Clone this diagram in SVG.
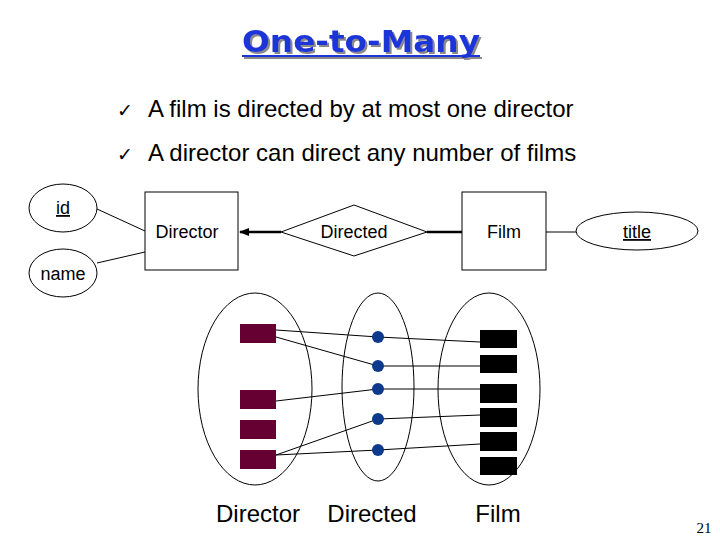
<svg xmlns="http://www.w3.org/2000/svg" width="720" height="540" viewBox="0 0 720 540">
<defs>
<style>
.t{font-family:"Liberation Sans",Arial,sans-serif;fill:#000}
.n{font-size:18px;text-anchor:middle}
.b{font-size:24px}
.ck{font-family:"DejaVu Sans",sans-serif;font-size:19px}
.s{fill:#fff;stroke:#000;stroke-width:1}
.e{fill:none;stroke:#000;stroke-width:1}
.l{stroke:#000;stroke-width:1;fill:none}
.mr{fill:#660033}
.bk{fill:#000}
.dt{fill:#0d3a8c}
</style>
<filter id="sh" x="-10%" y="-20%" width="120%" height="150%">
<feDropShadow dx="2" dy="2" stdDeviation="0.6" flood-color="#8a8a8a" flood-opacity="1"/>
</filter>
<marker id="ah" markerWidth="10" markerHeight="10" refX="9" refY="5" orient="auto" markerUnits="userSpaceOnUse">
<path d="M0,1 L10,5 L0,9 Z" fill="#000"/>
</marker>
</defs>
<rect width="720" height="540" fill="#fff"/>
<g id="title" filter="url(#sh)">
<text x="361" y="52" font-family="DejaVu Sans, sans-serif" font-weight="bold" font-size="31" fill="#1f35d8" text-anchor="middle" textLength="238" lengthAdjust="spacingAndGlyphs">One-to-Many</text>
<rect x="242" y="55" width="238" height="2" fill="#1f35d8"/>
</g>
<g id="bullets">
<text x="117" y="117" class="ck">✓</text>
<text x="148" y="117" class="t b">A film is directed by at most one director</text>
<text x="117" y="161" class="ck">✓</text>
<text x="148" y="161" class="t b">A director can direct any number of films</text>
</g>
<g id="connectors">
<line class="l" x1="97" y1="209" x2="145" y2="231"/>
<line class="l" x1="97" y1="263" x2="145" y2="252"/>
<line x1="281" y1="232" x2="240" y2="232" stroke="#000" stroke-width="2.5" marker-end="url(#ah)"/>
<line x1="427" y1="232" x2="462" y2="232" stroke="#000" stroke-width="2.5"/>
<line class="l" x1="546" y1="232" x2="576" y2="232"/>
<line class="l" x1="276" y1="330" x2="378" y2="337"/>
<line class="l" x1="276" y1="337" x2="378" y2="366"/>
<line class="l" x1="276" y1="401" x2="378" y2="389"/>
<line class="l" x1="276" y1="455" x2="378" y2="419"/>
<line class="l" x1="276" y1="455" x2="378" y2="450"/>
<line class="l" x1="378" y1="337" x2="480" y2="342"/>
<line class="l" x1="378" y1="366" x2="480" y2="366"/>
<line class="l" x1="378" y1="389" x2="480" y2="389"/>
<line class="l" x1="378" y1="419" x2="480" y2="415"/>
<line class="l" x1="378" y1="450" x2="480" y2="444"/>
</g>
<g id="id">
<ellipse class="s" cx="63" cy="208" rx="34" ry="24"/>
<text x="63" y="214" class="t n" text-decoration="underline">id</text>
</g>
<g id="name">
<ellipse class="s" cx="63" cy="273" rx="34" ry="24"/>
<text x="63" y="280" class="t n">name</text>
</g>
<g id="director">
<rect class="s" x="145" y="192" width="93" height="78"/>
<text x="187" y="238" class="t n">Director</text>
</g>
<g id="directed">
<polygon class="s" points="281,232 354,205 427,232 354,256"/>
<text x="354" y="238" class="t n">Directed</text>
</g>
<g id="film">
<rect class="s" x="462" y="192" width="84" height="78"/>
<text x="504" y="238" class="t n">Film</text>
</g>
<g id="title-attr">
<ellipse class="s" cx="637" cy="231" rx="61" ry="19"/>
<text x="637" y="238" class="t n" text-decoration="underline">title</text>
</g>
<g id="instances">
<ellipse class="e" cx="255" cy="389" rx="57" ry="96"/>
<ellipse class="e" cx="378" cy="387" rx="36" ry="94"/>
<ellipse class="e" cx="489" cy="389" rx="51" ry="96"/>
<rect class="mr" x="240" y="324" width="36" height="19"/>
<rect class="mr" x="240" y="390" width="36" height="19"/>
<rect class="mr" x="240" y="420" width="36" height="19"/>
<rect class="mr" x="240" y="450" width="36" height="19"/>
<circle class="dt" cx="378" cy="337" r="6"/>
<circle class="dt" cx="378" cy="366" r="6"/>
<circle class="dt" cx="378" cy="389" r="6"/>
<circle class="dt" cx="378" cy="419" r="6"/>
<circle class="dt" cx="378" cy="450" r="6"/>
<rect class="bk" x="480" y="330" width="37" height="18"/>
<rect class="bk" x="480" y="355" width="37" height="18"/>
<rect class="bk" x="480" y="384" width="37" height="19"/>
<rect class="bk" x="480" y="408" width="37" height="19"/>
<rect class="bk" x="480" y="432" width="37" height="19"/>
<rect class="bk" x="480" y="457" width="37" height="18"/>
</g>
<g id="labels">
<text x="258" y="522" class="t b" text-anchor="middle">Director</text>
<text x="372" y="522" class="t b" text-anchor="middle">Directed</text>
<text x="498" y="522" class="t b" text-anchor="middle">Film</text>
<text x="704" y="533" font-family="Liberation Serif, serif" font-size="15" text-anchor="middle">21</text>
</g>
</svg>
